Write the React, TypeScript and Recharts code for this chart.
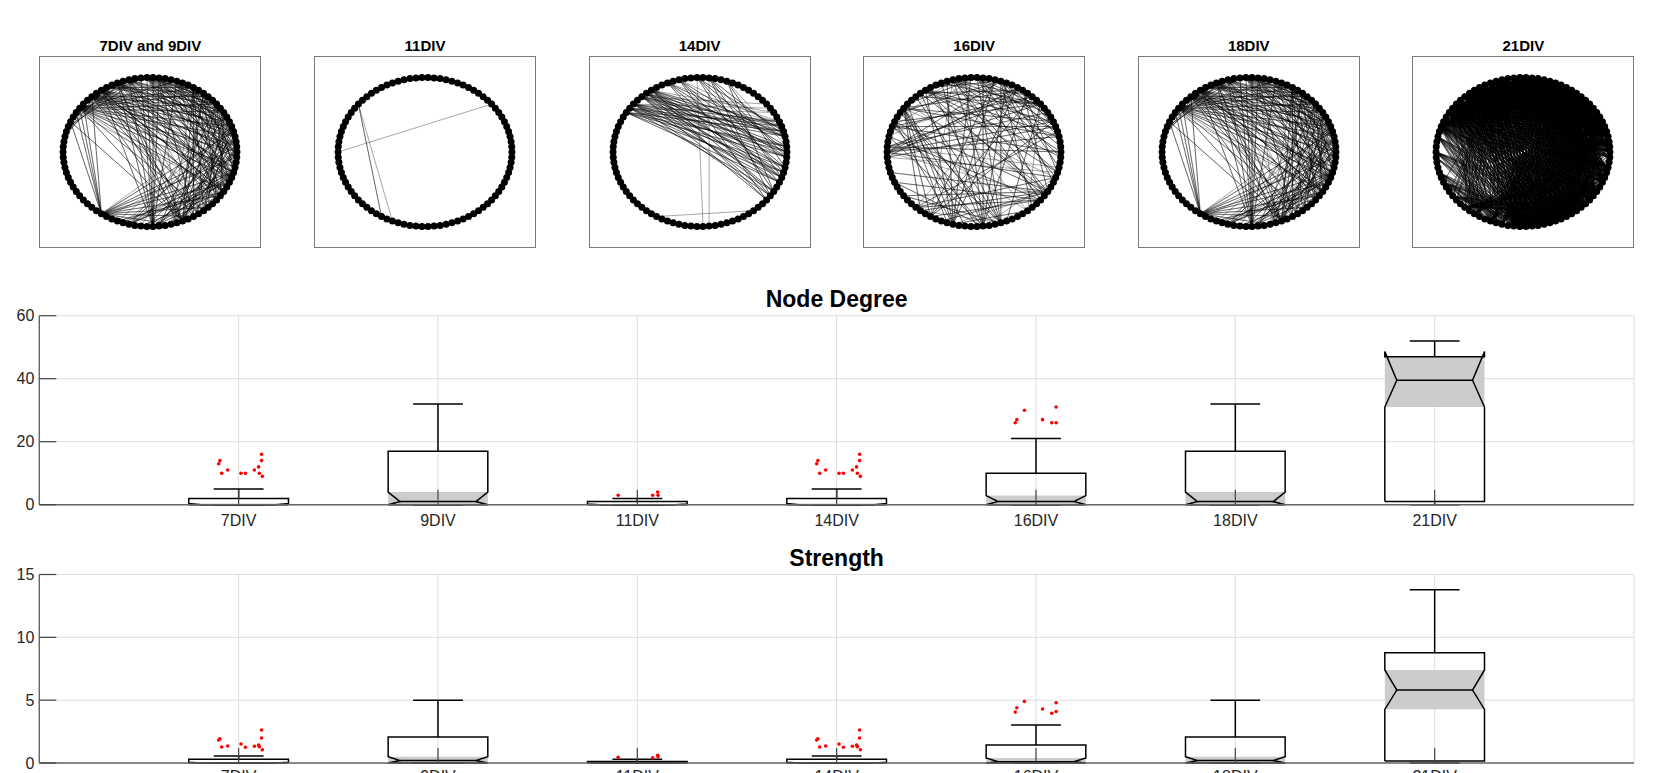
import React from 'react';
import { ComposedChart, Line, Scatter, XAxis, YAxis, CartesianGrid, ReferenceArea } from 'recharts';

const FONT = '"Liberation Sans", Arial, Helvetica, sans-serif';

// ---------- network panels (top row) ----------
const panelTitles = ['7DIV and 9DIV', '11DIV', '14DIV', '16DIV', '18DIV', '21DIV'];
const NODE_COUNT = 90;
// edge endpoints below were read on a 70-step clock grid (0 = 3 o'clock, counter-clockwise)
const GRID_STEPS = 70;

// each row: [hub, neighbour, neighbour, ...]
const edges9: number[][] = [
  [46, 26, 27, 28, 29, 30, 52, 55, 58, 61, 63, 65, 67, 69, 1, 3, 5],
  [53, 14, 16, 17, 18, 19, 20, 22, 24, 63, 66, 68],
  [57, 20, 22, 24, 26, 28, 30, 10, 12, 1, 3, 5, 66],
  [28, 0, 2, 4, 6, 8, 10, 12, 14, 64, 66, 68, 60, 62],
  [26, 1, 3, 5, 7, 9, 63, 65, 67, 69, 59, 61],
  [24, 0, 2, 4, 6, 62, 64, 66, 68, 58, 60],
  [22, 1, 3, 5, 63, 65, 67, 69, 56, 59],
  [20, 0, 2, 4, 6, 8, 62, 64, 66, 60],
  [18, 1, 3, 5, 7, 9, 63, 65, 67, 69, 61],
  [16, 0, 2, 4, 6, 8, 64, 66, 68, 58, 56],
  [14, 1, 3, 5, 7, 62, 65, 68, 59],
  [12, 63, 66, 69, 60, 58, 55],
  [10, 62, 65, 68, 56, 59],
  [8, 61, 64, 67, 57, 54, 51],
  [6, 60, 63, 55, 50],
  [4, 60, 57, 54, 50, 48],
  [2, 58, 55, 52, 49],
  [0, 56, 53, 50, 47],
  [67, 55, 52, 49, 25, 27],
  [64, 51, 48, 24, 29],
  [21, 28, 26, 30, 32, 25],
  [19, 25, 27, 29, 31, 23, 15, 13, 11],
  [23, 12, 10, 8, 30, 32, 33],
  [50, 65, 66, 68],
];
const edges11: number[][] = [
  [27, 47, 48],
  [35, 8],
];
const edges14: number[][] = [
  [24, 62, 64, 66, 68, 0, 2, 4, 6],
  [25, 63, 65, 67, 69, 1, 3, 5],
  [26, 62, 64, 66, 68, 0, 2, 4, 8],
  [27, 63, 65, 67, 69, 1, 3, 5, 7],
  [28, 64, 66, 68, 0, 2, 4, 6],
  [29, 65, 67, 69, 1, 3, 5],
  [22, 63, 66, 69, 2, 5],
  [20, 62, 65, 68, 1, 4],
  [18, 64, 67, 0, 3, 53],
  [16, 63, 66, 69, 2, 54],
  [14, 64, 68, 1],
  [47, 60],
];
const edges16: number[][] = [
  [35, 5, 8, 11, 14, 2, 66, 63],
  [34, 6, 9, 0, 68],
  [36, 4, 12, 67],
  [28, 45, 47, 49, 51, 53, 55, 2, 5, 66],
  [50, 12, 15, 18, 21, 24, 27, 30, 60, 64],
  [54, 10, 13, 16, 19, 22, 25, 30, 33, 40, 66],
  [56, 14, 17, 20, 23, 26, 29, 31, 42, 45],
  [20, 0, 3, 6, 9, 62, 64, 67, 25, 30],
  [17, 1, 4, 7, 63, 66, 69, 24, 27, 31],
  [14, 2, 5, 61, 65, 68, 23, 29, 33],
  [11, 3, 64, 67, 25, 28, 32],
  [24, 2, 5, 8, 63, 67, 69, 60],
  [8, 22, 26, 30, 57, 60],
  [64, 30, 38, 42, 45, 48, 25, 27],
  [62, 33, 40, 44, 47, 21],
  [47, 5, 9, 15, 20],
  [44, 66, 3, 12],
  [31, 0, 4, 9, 60],
];
// 18DIV network is drawn identically to the 7DIV/9DIV one
const edges18: number[][] = edges9;
// 21DIV is near-complete: [hub, first neighbour, last neighbour]
const ranges21: number[][] = [
  [0, 9, 31], [1, 10, 30], [2, 12, 32], [3, 11, 29], [4, 14, 32], [5, 13, 30], [6, 16, 32],
  [7, 15, 31], [8, 18, 32], [9, 19, 30], [10, 20, 32], [11, 21, 31], [12, 22, 32], [13, 23, 31],
  [14, 24, 32], [15, 25, 32], [16, 26, 32], [17, 27, 32], [18, 28, 32],
  [51, 2, 28], [52, 0, 30], [53, 4, 32], [54, 1, 26], [55, 3, 31], [56, 5, 29], [57, 0, 27],
  [58, 6, 32], [59, 2, 30], [60, 8, 32], [61, 4, 28], [62, 10, 32], [63, 6, 30], [64, 12, 32],
  [65, 8, 31], [66, 14, 32], [67, 10, 30], [68, 16, 32], [69, 18, 31],
  [51, 58, 69], [53, 60, 69], [55, 62, 69], [57, 64, 69], [52, 59, 67],
  [20, 40, 54], [22, 42, 56], [25, 44, 58], [27, 45, 60], [29, 46, 62], [31, 47, 64],
  [44, 60, 69], [46, 0, 10], [48, 2, 14], [50, 4, 16], [33, 48, 60], [35, 50, 62],
  [38, 47, 56], [40, 48, 58], [36, 50, 54], [42, 52, 60],
];

// ---------- box plots ----------
const categories = ['7DIV', '9DIV', '11DIV', '14DIV', '16DIV', '18DIV', '21DIV'];
const categoryTicks = [1, 2, 3, 4, 5, 6, 7];

const degreeTicks = [0, 20, 40, 60];
const degreeQ1 = [0, 0, 0, 0, 0, 0, 1];
const degreeMedian = [0, 1, 0, 0, 1, 1, 39.5];
const degreeQ3 = [2, 17, 1, 2, 10, 17, 47];
const degreeNotchLow = [0, 0, 0, 0, 0, 0, 31];
const degreeNotchHigh = [0.4, 4, 0.2, 0.4, 2.9, 4, 48.6];
const degreeWhiskerLow = [0, 0, 0, 0, 0, 0, 0];
const degreeWhiskerHigh = [5, 32, 2, 5, 21, 32, 52];

const strengthTicks = [0, 5, 10, 15];
const strengthQ1 = [0, 0, 0, 0, 0, 0, 0.16];
const strengthMedian = [0, 0.2, 0, 0, 0.1, 0.2, 5.8];
const strengthQ3 = [0.29, 2.07, 0.12, 0.29, 1.43, 2.07, 8.77];
const strengthNotchLow = [0, 0, 0, 0, 0, 0, 4.27];
const strengthNotchHigh = [0.06, 0.5, 0.03, 0.06, 0.4, 0.5, 7.4];
const strengthWhiskerLow = [0, 0, 0, 0, 0, 0, 0];
const strengthWhiskerHigh = [0.56, 5.0, 0.3, 0.56, 3.03, 5.0, 13.79];

// outliers: horizontal jitter (category units) and values
const jitter7 = [-0.1, -0.094, -0.085, -0.055, 0.012, 0.034, 0.079, 0.1, 0.104, 0.115, 0.115, 0.119];
const degreeOutliers7 = [13, 14, 10, 11, 10, 10, 11, 12, 10, 14, 16, 9];
const strengthOutliers7 = [1.83, 1.93, 1.27, 1.35, 1.51, 1.25, 1.33, 1.43, 1.3, 1.99, 2.63, 1.06];
const jitter11 = [-0.096, 0.077, 0.102, 0.104];
const degreeOutliers11 = [3, 3, 4, 3];
const strengthOutliers11 = [0.45, 0.42, 0.62, 0.5];
const jitter14 = [-0.1, -0.094, -0.085, -0.055, 0.012, 0.034, 0.079, 0.1, 0.104, 0.115, 0.115, 0.119];
const degreeOutliers14 = [13, 14, 10, 11, 10, 10, 11, 12, 10, 14, 16, 9];
const strengthOutliers14 = [1.83, 1.93, 1.27, 1.35, 1.51, 1.25, 1.33, 1.43, 1.3, 1.99, 2.63, 1.06];
const jitter16 = [-0.104, -0.096, -0.058, 0.033, 0.079, 0.101, 0.101];
const degreeOutliers16 = [26, 27, 30, 27, 26, 26, 31];
const strengthOutliers16 = [4.05, 4.4, 4.9, 4.3, 3.96, 4.1, 4.8];

type Pt = { x: number; y: number };

// circle layout
const ringNodes: Pt[] = Array.from({ length: NODE_COUNT }, (_, i) => {
  const a = (2 * Math.PI * i) / NODE_COUNT;
  return { x: Math.cos(a), y: Math.sin(a) };
});
const nodeAt = (g: number) => ringNodes[Math.round((g * NODE_COUNT) / GRID_STEPS) % NODE_COUNT];

const starPath = (row: number[]): Pt[] => row.slice(1).flatMap((n) => [nodeAt(row[0]), nodeAt(n)]);

const expandRange = ([hub, a, b]: number[]) => {
  const out = [hub];
  for (let k = a; k <= b; k++) if (k !== hub) out.push(k);
  return out;
};

const panelEdges = [edges9, edges11, edges14, edges16, edges18, ranges21.map(expandRange)];

const NodeDot = (p: any) => <circle cx={p.cx} cy={p.cy} r={3.5} fill="#000" />;
const RedDot = (p: any) => <circle cx={p.cx} cy={p.cy} r={1.8} fill="#ff0000" />;

const PANEL_W = 220;
const PANEL_H = 190;
const PANEL_TOP = 56.5;

function NetworkPanel({ title, rows, left }: { title: string; rows: number[][]; left: number }) {
  return (
    <>
      <div
        style={{
          position: 'absolute', left, top: 38, width: PANEL_W, textAlign: 'center',
          fontSize: 15, lineHeight: '15px', fontWeight: 'bold', color: '#000',
        }}
      >
        {title}
      </div>
      <div style={{ position: 'absolute', left: left - 1, top: PANEL_TOP - 1, border: '1px solid #7a7a7a' }}>
        <ComposedChart width={PANEL_W} height={PANEL_H} margin={{ top: 0, right: 0, bottom: 0, left: 0 }}>
          <XAxis type="number" dataKey="x" domain={[-1.265, 1.265]} hide />
          <YAxis type="number" dataKey="y" domain={[-1.275, 1.275]} hide />
          {rows.map((row, k) => (
            <Line
              key={k}
              data={starPath(row)}
              dataKey="y"
              stroke="#000"
              strokeOpacity={0.5}
              strokeWidth={0.7}
              dot={false}
              activeDot={false}
              isAnimationActive={false}
            />
          ))}
          <Scatter data={ringNodes} shape={NodeDot} isAnimationActive={false} />
        </ComposedChart>
      </div>
    </>
  );
}

const BOX_W = 0.25;
const NOTCH_W = 0.19;
const CAP_W = 0.125;

interface BoxProps {
  top: number;
  plotTop: number;
  plotBottom: number;
  title: string;
  titleY: number;
  yMax: number;
  yTicks: number[];
  labelGap: number;
  q1: number[];
  median: number[];
  q3: number[];
  notchLow: number[];
  notchHigh: number[];
  whiskerLow: number[];
  whiskerHigh: number[];
  outliers: Pt[];
}

const PLOT_LEFT = 39.3;
const PLOT_RIGHT = 1634;
const CHART_H = 270;
const XAXIS_H = 40;

function BoxChart(p: BoxProps) {
  const mt = p.plotTop - p.top;
  const mb = CHART_H - (p.plotBottom - p.top) - XAXIS_H;
  const lineProps = {
    dataKey: 'y',
    stroke: '#000',
    strokeWidth: 1.5,
    dot: false,
    activeDot: false,
    isAnimationActive: false,
  } as const;
  return (
    <>
      <div
        style={{
          position: 'absolute', left: PLOT_LEFT, top: p.titleY - 11.5, width: PLOT_RIGHT - PLOT_LEFT,
          textAlign: 'center', fontSize: 23, lineHeight: '23px', fontWeight: 'bold', color: '#000',
        }}
      >
        {p.title}
      </div>
      <div style={{ position: 'absolute', left: 0, top: p.top }}>
        <ComposedChart width={1669} height={CHART_H} margin={{ top: mt, right: 1669 - PLOT_RIGHT, bottom: mb, left: 0 }}>
          <CartesianGrid stroke="#dedede" strokeWidth={1} />
          <XAxis
            type="number"
            dataKey="x"
            domain={[0, 8]}
            ticks={categoryTicks}
            interval={0}
            tickFormatter={(v: number) => categories[v - 1]}
            height={XAXIS_H}
            tickSize={-15}
            tickMargin={15 + p.labelGap}
            tick={{ fill: '#262626', fontSize: 16, fontFamily: FONT }}
            tickLine={{ stroke: '#444', strokeWidth: 1.2 }}
            axisLine={{ stroke: '#666', strokeWidth: 1.4 }}
          />
          <YAxis
            type="number"
            dataKey="y"
            domain={[0, p.yMax]}
            ticks={p.yTicks}
            interval={0}
            width={PLOT_LEFT}
            tickSize={-17}
            tickMargin={22}
            tick={{ fill: '#262626', fontSize: 16, fontFamily: FONT }}
            tickLine={{ stroke: '#444', strokeWidth: 1.2 }}
            axisLine={{ stroke: '#666', strokeWidth: 1.4 }}
          />
          {categories.map((c, i) => {
            const lo = Math.max(p.notchLow[i], p.q1[i]);
            const hi = Math.min(p.notchHigh[i], p.q3[i]);
            return (
              <ReferenceArea
                key={'a' + c}
                x1={i + 1 - BOX_W}
                x2={i + 1 + BOX_W}
                y1={lo}
                y2={hi}
                fill="#cccccc"
                fillOpacity={1}
                stroke="none"
                ifOverflow="visible"
              />
            );
          })}
          {categories.map((c, i) => {
            const x = i + 1;
            const lo = Math.max(p.notchLow[i], p.q1[i]);
            const outline: Pt[] = [
              { x: x - BOX_W, y: p.q1[i] },
              { x: x - BOX_W, y: lo },
              { x: x - NOTCH_W, y: p.median[i] },
              { x: x - BOX_W, y: p.notchHigh[i] },
              { x: x - BOX_W, y: p.q3[i] },
              { x: x + BOX_W, y: p.q3[i] },
              { x: x + BOX_W, y: p.notchHigh[i] },
              { x: x + NOTCH_W, y: p.median[i] },
              { x: x + BOX_W, y: lo },
              { x: x + BOX_W, y: p.q1[i] },
              { x: x - BOX_W, y: p.q1[i] },
            ];
            const upper: Pt[] = [
              { x, y: p.q3[i] },
              { x, y: p.whiskerHigh[i] },
              { x: x - CAP_W, y: p.whiskerHigh[i] },
              { x: x + CAP_W, y: p.whiskerHigh[i] },
            ];
            const lower: Pt[] = [
              { x, y: p.q1[i] },
              { x, y: p.whiskerLow[i] },
              { x: x - CAP_W, y: p.whiskerLow[i] },
              { x: x + CAP_W, y: p.whiskerLow[i] },
            ];
            const med: Pt[] = [
              { x: x - NOTCH_W, y: p.median[i] },
              { x: x + NOTCH_W, y: p.median[i] },
            ];
            return [
              <Line key={'u' + c} data={upper} {...lineProps} />,
              <Line key={'l' + c} data={lower} {...lineProps} />,
              <Line key={'b' + c} data={outline} {...lineProps} />,
              <Line key={'m' + c} data={med} {...lineProps} />,
            ];
          })}
          <Scatter data={p.outliers} shape={RedDot} isAnimationActive={false} />
        </ComposedChart>
      </div>
    </>
  );
}

const outlierPoints = (vals7: number[], vals11: number[], vals14: number[], vals16: number[]): Pt[] => [
  ...jitter7.map((j, k) => ({ x: 1 + j, y: vals7[k] })),
  ...jitter11.map((j, k) => ({ x: 3 + j, y: vals11[k] })),
  ...jitter14.map((j, k) => ({ x: 4 + j, y: vals14[k] })),
  ...jitter16.map((j, k) => ({ x: 5 + j, y: vals16[k] })),
];

export default function App() {
  return (
    <div
      style={{
        position: 'absolute', left: 0, top: 0, width: 1669, height: 773, overflow: 'hidden',
        background: '#fff', fontFamily: FONT,
      }}
    >
      {panelTitles.map((t, k) => (
        <NetworkPanel key={t} title={t} rows={panelEdges[k]} left={40.4 + k * 274.6} />
      ))}
      <BoxChart
        top={280}
        plotTop={315.7}
        plotBottom={504.7}
        title="Node Degree"
        titleY={299}
        yMax={60}
        yTicks={degreeTicks}
        labelGap={9.5}
        q1={degreeQ1}
        median={degreeMedian}
        q3={degreeQ3}
        notchLow={degreeNotchLow}
        notchHigh={degreeNotchHigh}
        whiskerLow={degreeWhiskerLow}
        whiskerHigh={degreeWhiskerHigh}
        outliers={outlierPoints(degreeOutliers7, degreeOutliers11, degreeOutliers14, degreeOutliers16)}
      />
      <BoxChart
        top={540}
        plotTop={574.5}
        plotBottom={763}
        title="Strength"
        titleY={558}
        yMax={15}
        yTicks={strengthTicks}
        labelGap={8}
        q1={strengthQ1}
        median={strengthMedian}
        q3={strengthQ3}
        notchLow={strengthNotchLow}
        notchHigh={strengthNotchHigh}
        whiskerLow={strengthWhiskerLow}
        whiskerHigh={strengthWhiskerHigh}
        outliers={outlierPoints(strengthOutliers7, strengthOutliers11, strengthOutliers14, strengthOutliers16)}
      />
    </div>
  );
}
